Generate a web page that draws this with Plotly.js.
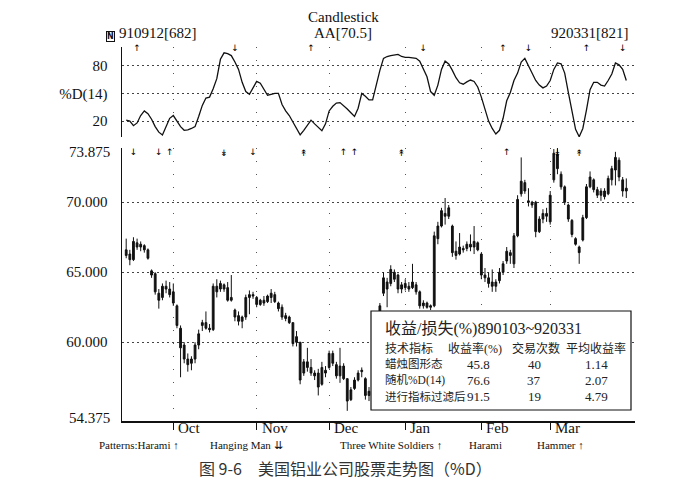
<!DOCTYPE html>
<html><head><meta charset="utf-8">
<script src="https://cdn.plot.ly/plotly-3.0.1.min.js"></script>
<style>html,body{margin:0;padding:0;background:#fff}#c{width:685px;height:503px}</style>
</head><body><div id="c"></div>
<script>
// ---- DATA ----
const openP = [66.6,66.3,65.9,67.1,66.8,66.9,66.6,65.1,64.9,63.5,
 63.2,64.0,63.8,63.6,62.6,61.0,59.8,58.8,58.5,58.8,
 59.8,61.2,61.4,61.0,60.9,64.0,63.8,64.1,63.9,63.2,
 62.3,61.9,61.5,61.8,63.2,63.4,63.2,62.7,63.0,62.9,
 63.2,63.4,62.8,62.5,61.9,61.8,61.4,60.4,60.0,57.8,
 58.6,58.2,57.8,57.8,57.0,58.0,58.2,59.2,58.4,57.6,
 58.3,57.4,55.9,56.7,57.3,57.9,57.4,56.2,56.5,57.0,
 60.5,63.5,64.3,64.2,65.0,64.8,63.8,64.2,64.0,63.9,
 64.1,63.6,62.6,62.8,62.5,62.6,67.4,68.3,69.2,69.0,
 68.3,66.5,66.3,66.7,66.7,67.0,66.8,67.1,66.3,64.8,
 64.6,64.3,64.0,64.4,65.0,65.8,66.4,65.6,67.6,70.6,
 71.4,70.1,70.0,70.0,67.9,68.8,69.2,68.6,71.6,73.4,
 72.0,71.1,69.8,68.7,67.4,66.8,67.3,68.9,71.1,71.6,
 70.9,70.5,70.8,70.6,71.6,72.3,73.0,71.6,70.8];
const highP = [67.4,66.6,67.5,67.4,67.2,67.0,66.7,65.2,65.0,63.8,
 64.2,64.4,64.3,64.2,62.7,61.2,60.0,59.2,59.0,60.0,
 60.9,61.6,62.2,61.3,64.2,64.5,64.4,64.2,64.3,64.8,
 62.4,62.2,61.9,63.4,63.7,63.6,63.3,63.1,63.3,63.4,
 63.8,63.6,62.9,62.7,62.1,61.9,61.4,60.8,60.0,58.8,
 59.6,58.8,58.0,58.1,58.6,58.3,59.4,59.4,58.6,59.6,
 58.5,57.4,56.8,57.5,58.0,58.2,57.5,56.8,57.0,60.5,
 62.8,65.0,64.6,65.5,65.2,64.9,64.3,64.5,64.3,65.6,
 64.3,63.7,63.0,62.9,62.7,67.9,68.6,69.6,70.3,69.8,
 68.4,67.2,67.8,66.9,67.2,67.7,68.3,67.2,66.4,65.3,
 65.0,65.2,64.5,65.3,65.8,66.8,66.6,67.8,70.5,73.2,
 71.6,71.0,70.1,70.1,69.0,69.5,69.6,70.8,73.8,73.9,
 72.2,71.2,69.9,68.8,67.5,66.9,69.1,71.3,72.2,71.7,
 71.1,71.0,71.0,71.9,72.6,73.6,73.2,71.8,71.7];
const lowP = [66.0,65.5,65.8,66.6,66.5,66.4,65.9,64.6,63.4,62.4,
 63.0,63.5,63.2,62.6,61.0,57.5,58.5,57.9,58.0,58.5,
 59.5,60.8,60.9,60.7,60.8,63.2,63.6,63.6,62.9,62.9,
 61.5,61.2,61.0,61.6,62.0,63.1,62.5,62.6,62.6,62.8,
 62.8,62.8,62.2,61.6,61.5,61.3,59.7,59.7,57.0,57.6,
 57.9,57.6,57.3,56.2,56.9,57.5,58.1,58.3,57.4,57.1,
 57.3,55.1,55.8,56.6,57.2,57.5,55.9,55.8,56.0,56.9,
 60.3,63.3,62.5,64.0,64.3,63.5,63.5,63.7,63.6,63.8,
 63.4,62.4,62.4,62.4,62.3,62.5,67.0,68.2,68.4,68.8,
 66.1,65.9,66.2,66.4,66.5,66.5,66.3,66.5,64.5,64.3,
 63.9,63.6,63.6,64.2,64.8,65.6,65.6,65.3,67.5,70.4,
 70.6,69.7,69.6,67.5,67.8,68.5,68.6,68.4,71.4,72.0,
 70.9,69.8,68.6,67.5,66.9,65.6,67.2,68.8,71.0,70.7,
 70.3,70.1,70.2,70.5,71.2,71.2,71.5,70.4,70.3];
const closeP = [66.2,65.9,67.2,66.8,67.0,66.6,66.0,64.8,63.6,63.0,
 64.0,63.8,63.4,62.8,61.2,59.6,58.8,58.4,58.8,59.8,
 60.6,61.4,61.0,60.9,64.0,63.6,64.2,63.8,63.0,63.0,
 61.8,61.5,61.8,63.2,63.4,63.3,62.7,63.0,62.8,63.3,
 63.5,62.9,62.4,61.8,61.7,61.4,59.9,60.0,57.3,58.6,
 58.2,57.8,57.6,56.8,58.2,57.8,59.2,58.5,57.6,58.3,
 57.4,55.8,56.6,57.3,57.8,58.0,56.2,56.5,56.8,60.3,
 62.6,64.6,63.8,65.2,64.5,63.8,64.1,63.9,63.8,64.3,
 63.6,62.6,62.8,62.5,62.6,67.6,68.3,69.4,69.0,69.6,
 66.4,66.2,66.8,66.6,67.0,66.8,67.2,66.6,64.8,64.6,
 64.2,64.0,64.3,65.0,65.6,66.5,66.2,67.6,70.2,71.5,
 70.8,70.0,69.8,67.9,68.8,69.2,69.0,70.5,73.5,72.4,
 71.1,70.0,68.8,67.7,67.0,66.4,68.9,71.1,71.8,70.9,
 70.5,70.8,70.4,71.7,72.4,73.2,71.8,70.8,71.0];
const pctD = [21,20,15,18,26,31,28,22,14,8,
 5,14,23,26,20,14,10,10.5,12,14,
 25,37,45,46,55,66,87,94,93,91,
 84,76,62,52,49,56,63,61,55,48,
 49,50,50,38,31,26,19,12,5,10,
 15,21,17,13,9.5,17,31,36,39.5,40,
 37,33,29,25,34,50,47,43,43,60,
 75,88,90,91,91.6,92.3,90,89,89,88.5,
 88,85,76,68,52,48,59,76,85,82,
 75,67,61.5,60,62.5,64.5,63,57,46,33,
 20,12,6,10,23,42,51,64,72,84,
 88,80,72,64,59,56,58,64,76,83,
 82,72,51,30,11,3,12,32,54,62,
 62,59,58,64,71,83,81,76,64];
const days = openP.map((_, i) => i);

const monthTicks = [13, 36, 56, 77, 98, 117];
const monthLabels = ['Oct', 'Nov', 'Dec', 'Jan', 'Feb', 'Mar'];
const priceTicks = [70, 65, 60];
const priceTickText = ['70.000', '65.000', '60.000'];
const priceEnds = [73.875, 54.375];
const dTicks = [20, 50, 80];
const dTickText = ['20', '%D(14)', '80'];

// signals
const dUp = [3, 51, 104, 127];
const dDown = [30, 82, 111, 137];
const cUp = [12, 60, 63, 105];
const cDown = [2, 9, 35];
const cUp2 = [49, 76, 125];
const cDown2 = [27, 119];

const patternNames = ['Patterns:Harami ↑', 'Hanging Man ⇊', 'Three White Soldiers ↑', 'Harami', 'Hammer ↑'];
const patternPx = [97, 208, 338, 467, 535];

const tableTitle = '收益/损失(%)890103~920331';
const tableHeader = ['技术指标', '收益率(%)', '交易次数', '平均收益率'];
const techNames = ['蜡烛图形态', '随机%D(14)', '进行指标过滤后'];
const returnRates = ['45.8', '76.6', '91.5'];
const tradeCounts = ['40', '37', '19'];
const avgReturns = ['1.14', '2.07', '4.79'];

const caption = '图 9-6　美国铝业公司股票走势图（%D）';

// ---- LAYOUT HELPERS ----
const L = 122, R = 50, T = 47, B = 82, W = 685, H = 503;
const pw = W - L - R, ph = H - T - B;
const px = x => (x - L) / pw;
const py = y => (H - B - y) / ph;
const serif = 'Liberation Serif, Times New Roman, serif';
const cjk = 'Liberation Serif, Noto Sans CJK SC, serif';

const arrowFont = {family: 'DejaVu Sans', size: 9, color: '#000000'};
function sig(xs, y, yaxis, txt) {
  return {type: 'scatter', mode: 'text', x: xs, y: xs.map(() => y), yaxis: yaxis,
    text: xs.map(() => txt), textfont: arrowFont, cliponaxis: false, hoverinfo: 'skip', showlegend: false};
}

const traces = [
  {type: 'candlestick', x: days, open: openP, high: highP, low: lowP, close: closeP,
   xaxis: 'x', yaxis: 'y',
   increasing: {line: {color: '#111', width: 1}, fillcolor: '#111'},
   decreasing: {line: {color: '#111', width: 1}, fillcolor: '#111'},
   whiskerwidth: 0, showlegend: false, hoverinfo: 'skip'},
  {type: 'scatter', mode: 'lines', x: days, y: pctD, xaxis: 'x', yaxis: 'y2',
   line: {color: '#111', width: 1.3}, showlegend: false, hoverinfo: 'skip'},
  sig(dUp, 98.8, 'y2', '↑'), sig(dDown, 98.8, 'y2', '↓'),
  sig(cUp, 73.55, 'y', '↑'), sig(cDown, 73.55, 'y', '↓'),
  sig(cUp2, 73.45, 'y', '↟'), sig(cDown2, 73.45, 'y', '↡')
];

const ann = [];
function A(text, x, y, opts) {
  ann.push(Object.assign({text: text, x: px(x), y: py(y), xref: 'paper', yref: 'paper',
    showarrow: false, xanchor: 'center', yanchor: 'middle',
    font: {family: serif, size: 15, color: '#111'}}, opts || {}));
}
A('Candlestick', 343, 17);
A('AA[70.5]', 343, 33);
A('910912[682]', 158, 33);
A('920331[821]', 590, 33);
A('<b>N</b>', 110, 36, {font: {family: 'DejaVu Sans', size: 8, color: '#111'}, bordercolor: '#111', borderwidth: 1, borderpad: 0});
// end labels of price axis
A(String(priceEnds[0].toFixed(3)), 112, 152, {xanchor: 'right'});
A(String(priceEnds[1].toFixed(3)), 112, 418, {xanchor: 'right'});
// month labels
monthTicks.forEach((m, i) => {
  ann.push({text: monthLabels[i], x: m, xref: 'x', y: py(428), yref: 'paper', xanchor: 'left', yanchor: 'middle',
    xshift: 3, showarrow: false, font: {family: serif, size: 15, color: '#111'}});
});
// pattern legend
patternNames.forEach((p, i) => A(p, patternPx[i], 445, {xanchor: 'left', font: {family: serif, size: 11, color: '#111'}}));
// table
A(tableTitle, 383, 329, {xanchor: 'left', font: {family: cjk, size: 16, color: '#222'}});
const colX = [383, 475, 536, 596];
tableHeader.forEach((h, i) => A(h, colX[i], 348, {xanchor: i === 0 ? 'left' : 'center', font: {family: cjk, size: 12, color: '#222'}}));
const rowY = [364, 380, 396];
techNames.forEach((n, r) => {
  A(n, colX[0], rowY[r], {xanchor: 'left', font: {family: cjk, size: 11.5, color: '#222'}});
  A(returnRates[r], 478, rowY[r], {font: {family: serif, size: 13, color: '#222'}});
  A(tradeCounts[r], 534, rowY[r], {font: {family: serif, size: 13, color: '#222'}});
  A(avgReturns[r], 596, rowY[r], {font: {family: serif, size: 13, color: '#222'}});
});
A(caption, 345, 468, {font: {family: 'Noto Sans CJK SC', size: 16, color: '#333'}});

const shapes = [
  {type: 'rect', xref: 'paper', yref: 'paper', x0: px(371), x1: px(631), y0: py(410), y1: py(311),
   line: {color: '#111', width: 1.2}, fillcolor: '#fff', layer: 'above'}
];

const layout = {
  width: W, height: H, margin: {l: L, r: R, t: T, b: B},
  paper_bgcolor: '#fff', plot_bgcolor: '#fff', showlegend: false,
  xaxis: {range: [-1.16, 140.4], rangeslider: {visible: false}, tickvals: monthTicks,
    showticklabels: false, ticks: 'outside', ticklen: 7, tickcolor: '#111', tickwidth: 1.2,
    showgrid: true, gridcolor: '#555', gridwidth: 1, griddash: '1px,12px',
    showline: true, linecolor: '#111', linewidth: 1.5, zeroline: false, fixedrange: true},
  yaxis: {domain: [0, 0.730], range: [54.375, 73.875], tickvals: priceTicks, ticktext: priceTickText,
    tickfont: {family: serif, size: 15, color: '#111'}, ticks: '', ticklabelstandoff: 10,
    showgrid: true, gridcolor: '#444', griddash: '2px,3px', gridwidth: 1,
    showline: true, linecolor: '#111', linewidth: 1.5, zeroline: false},
  yaxis2: {domain: [0.759, 1], range: [2.6, 100.3], tickvals: dTicks, ticktext: dTickText,
    tickfont: {family: serif, size: 15, color: '#111'}, ticks: '', ticklabelstandoff: 10,
    showgrid: true, gridcolor: '#444', griddash: '2px,3px', gridwidth: 1,
    showline: true, linecolor: '#111', linewidth: 1.5, zeroline: false},
  shapes: shapes, annotations: ann
};
Plotly.newPlot('c', traces, layout, {staticPlot: true, displayModeBar: false});
</script></body></html>
